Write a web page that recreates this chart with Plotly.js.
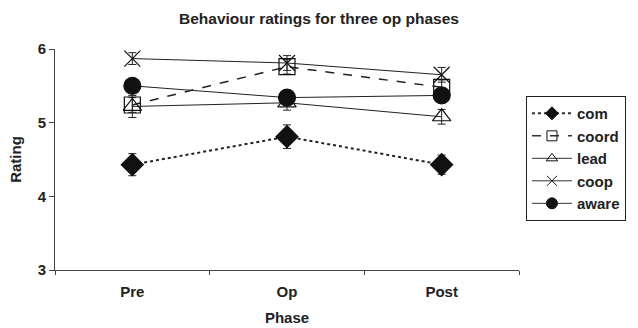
<!DOCTYPE html>
<html>
<head>
<meta charset="utf-8">
<script src="https://cdn.plot.ly/plotly-3.0.1.min.js"></script>
<style>html,body{margin:0;padding:0;background:#fff;}#chart{width:638px;height:328px;}</style>
</head>
<body>
<div id="chart"></div>
<script>
const phases = ["Pre", "Op", "Post"];
const com = [4.43, 4.81, 4.43];
const comErr = [0.15, 0.16, 0.13];
const coord = [5.24, 5.76, 5.48];
const coordErr = [0.1, 0.1, 0.1];
const lead = [5.22, 5.27, 5.08];
const leadErr = [0.15, 0.1, 0.1];
const coop = [5.87, 5.81, 5.65];
const coopErr = [0.08, 0.1, 0.1];
const aware = [5.5, 5.34, 5.37];
const awareErr = [0.08, 0.08, 0.08];
const seriesNames = ["com", "coord", "lead", "coop", "aware"];

const FONT = "Liberation Sans, Arial, sans-serif";
const styles = [
  {dash: "dot", lw: 2, sym: "diamond", fill: "#111", size: 17, lsize: 10},
  {dash: "dash", lw: 1.5, sym: "square-open", fill: "#111", size: 16, lsize: 10},
  {dash: "solid", lw: 1, sym: "triangle-up-open", fill: "#111", size: 16, lsize: 10},
  {dash: "solid", lw: 1, sym: "x-thin-open", fill: "#111", size: 16, lsize: 10},
  {dash: "solid", lw: 1, sym: "circle", fill: "#111", size: 17, lsize: 11}
];
const vals = [com, coord, lead, coop, aware];
const errs = [comErr, coordErr, leadErr, coopErr, awareErr];

const traces = [];
seriesNames.forEach((nm, i) => {
  const s = styles[i];
  traces.push({
    type: "scatter", mode: "lines+markers", x: phases, y: vals[i], name: nm,
    showlegend: false, legendgroup: nm,
    line: {color: "#222", width: s.lw, dash: s.dash},
    marker: {symbol: s.sym, size: s.size, color: s.fill, line: {color: "#111", width: 1.2}},
    error_y: {type: "data", array: errs[i], visible: true, color: "#222", thickness: 1, width: 4}
  });
});
seriesNames.forEach((nm, i) => {
  const s = styles[i];
  traces.push({
    type: "scatter", mode: "lines+markers", x: [null], y: [null], name: nm,
    showlegend: true, legendgroup: nm,
    line: {color: "#333", width: s.lw, dash: s.dash},
    marker: {symbol: s.sym, size: s.lsize, color: s.fill, line: {color: "#111", width: 1}}
  });
});

const layout = {
  width: 638, height: 328,
  margin: {l: 55, r: 116, t: 49, b: 58},
  paper_bgcolor: "#fff", plot_bgcolor: "#fff",
  font: {family: FONT, size: 15, color: "#222"},
  title: {text: "<b>Behaviour ratings for three op phases</b>", font: {family: FONT, size: 15.5, color: "#222"},
          x: 0.5, xref: "container", y: 1 - 19/328, yref: "container", yanchor: "middle"},
  xaxis: {
    type: "category", range: [-0.5, 2.5], showgrid: false, zeroline: false,
    showline: true, linecolor: "#444", linewidth: 1,
    ticks: "outside", tickson: "boundaries", ticklen: 4, tickcolor: "#444",
    tickfont: {family: FONT, size: 15, color: "#222", weight: "bold"},
    ticklabelstandoff: 8,
    title: {text: "<b>Phase</b>", font: {family: FONT, size: 15, color: "#222"}, standoff: 13}
  },
  yaxis: {
    range: [3, 6], dtick: 1, showgrid: false, zeroline: false,
    showline: true, linecolor: "#444", linewidth: 1,
    ticks: "outside", ticklen: 5, tickcolor: "#444",
    tickfont: {family: FONT, size: 15, color: "#222", weight: "bold"},
    title: {text: "<b>Rating</b>", font: {family: FONT, size: 15, color: "#222"}, standoff: 12}
  },
  legend: {
    x: 1.015, xanchor: "left", y: 0.787, yanchor: "top",
    bgcolor: "#fff", bordercolor: "#222", borderwidth: 1,
    font: {family: FONT, size: 15, color: "#222", weight: "bold"},
    itemwidth: 40, tracegroupgap: 7, traceorder: "normal"
  }
};

Plotly.newPlot("chart", traces, layout, {displayModeBar: false, staticPlot: true});
</script>
</body>
</html>
